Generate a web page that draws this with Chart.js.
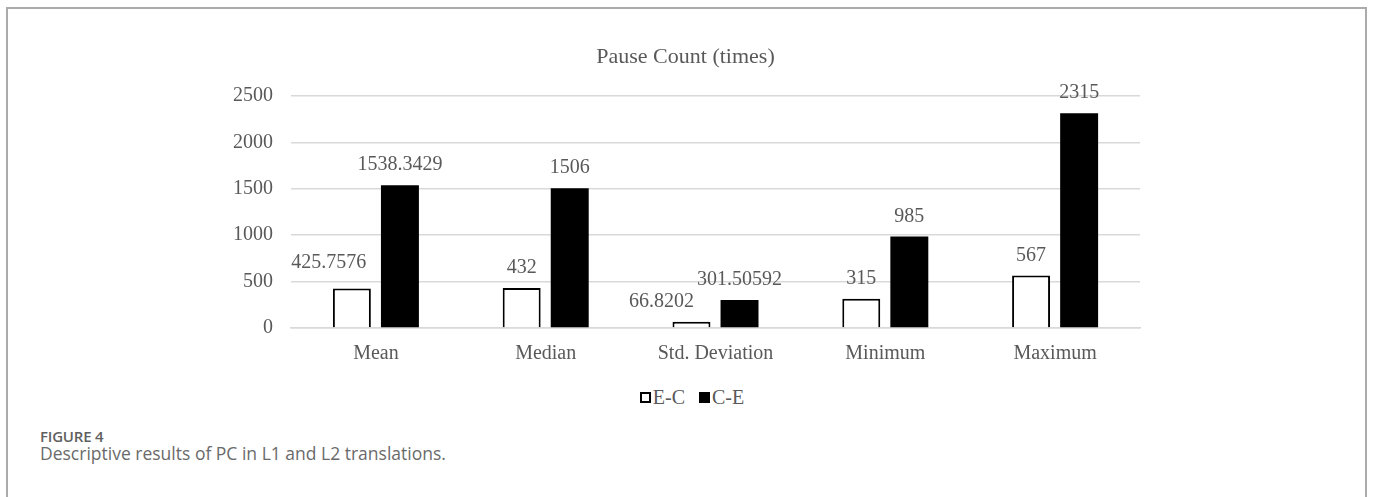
<!DOCTYPE html>
<html>
<head>
<meta charset="utf-8">
<script src="https://cdn.jsdelivr.net/npm/chart.js@4.4.1/dist/chart.umd.min.js"></script>
<style>
  html, body { margin: 0; padding: 0; background: #fff; width: 1373px; height: 497px; overflow: hidden; }
  #frame {
    position: absolute; left: 6px; top: 7px; width: 1361px; height: 520px;
    border: 2px solid #ababab; box-sizing: border-box;
  }
  #wrap { position: absolute; left: 11px; top: 0; width: 1362px; height: 368px; }
  #legend {
    position: absolute; top: 385px; left: 0; width: 1384px; text-align: center;
    font-family: "Liberation Serif", "Times New Roman", serif; font-size: 20px; color: #595959;
    line-height: 24px;
  }
  #legend span.item { display: inline-block; margin: 0 7px; }
  #legend span.box {
    display: inline-block; width: 11px; height: 11px; box-sizing: border-box;
    margin-right: 2px; vertical-align: 1px;
  }
  #figlabel {
    position: absolute; left: 40px; top: 426px; line-height: 20px;
    font-family: "Open Sans", sans-serif; font-weight: 600; font-size: 15px; color: #5f5f5f;
    letter-spacing: -0.2px;
  }
  #caption {
    position: absolute; left: 40px; top: 441px; line-height: 24px;
    font-family: "Open Sans", sans-serif; font-size: 17.5px; color: #6a6a6a;
  }
</style>
</head>
<body>
<div id="frame"></div>
<div id="wrap"><canvas id="chart" width="1362" height="368"></canvas></div>
<div id="legend"></div>
<div id="figlabel">FIGURE 4</div>
<div id="caption">Descriptive results of PC in L1 and L2 translations.</div>
<script>
// Descriptive statistics of pause count
const categories = ["Mean", "Median", "Std. Deviation", "Minimum", "Maximum"];
const seriesNames = ["E-C", "C-E"];
const ecValues = [425.7576, 432, 66.8202, 315, 567];
const ceValues = [1538.3429, 1506, 301.50592, 985, 2315];
const yTicks = [0, 500, 1000, 1500, 2000, 2500];

const serif = '"Liberation Serif", "Times New Roman", serif';
const textGray = '#595959';

// value labels above each bar; a couple are nudged so they don't collide
const valueLabels = {
  id: 'valueLabels',
  afterDatasetsDraw(chart, args, opts) {
    const ctx = chart.ctx;
    ctx.save();
    ctx.font = '20px ' + serif;
    ctx.fillStyle = textGray;
    ctx.textAlign = 'center';
    ctx.textBaseline = 'middle';
    chart.data.datasets.forEach((ds, di) => {
      const meta = chart.getDatasetMeta(di);
      meta.data.forEach((bar, i) => {
        const nudge = (opts.nudge && opts.nudge[di + ':' + i]) || [0, 0];
        ctx.fillText(String(ds.data[i]), bar.x + nudge[0], bar.y - opts.offset + nudge[1]);
      });
    });
    ctx.restore();
  }
};

const chart = new Chart(document.getElementById('chart'), {
  type: 'bar',
  data: {
    labels: categories,
    datasets: [
      {
        label: seriesNames[0], data: ecValues,
        backgroundColor: '#ffffff', borderColor: '#000000', borderWidth: 2,
        borderSkipped: 'start'
      },
      {
        label: seriesNames[1], data: ceValues,
        backgroundColor: '#000000', borderColor: '#000000', borderWidth: 0
      }
    ]
  },
  options: {
    responsive: false,
    animation: false,
    devicePixelRatio: 1,
    categoryPercentage: 0.566,
    barPercentage: 0.79,
    layout: { padding: { left: 220, right: 233, top: 0, bottom: 0 } },
    plugins: {
      legend: { display: false },
      tooltip: { enabled: false },
      title: {
        display: true,
        text: 'Pause Count (times)',
        color: textGray,
        font: { family: serif, size: 22, weight: 'normal' },
        padding: { top: 44, bottom: 25.6 }
      },
      valueLabels: { offset: 20, nudge: { '0:0': [-23, -6], '0:2': [-30, 0] } }
    },
    scales: {
      x: {
        grid: { display: false, drawTicks: false },
        border: { display: true, color: '#d9d9d9', width: 1.5 },
        ticks: { color: textGray, font: { family: serif, size: 20 }, padding: 14 },
        afterFit(scale) { scale.height = 40; }
      },
      y: {
        min: 0, max: 2500,
        afterBuildTicks(scale) { scale.ticks = yTicks.map(v => ({ value: v })); },
        grid: { color: '#d9d9d9', lineWidth: 1.5, drawTicks: false },
        border: { display: false },
        ticks: {
          color: textGray, font: { family: serif, size: 20 }, padding: 18,
          callback: v => String(v)
        },
        afterFit(scale) { scale.width = 60; }
      }
    }
  },
  plugins: [valueLabels]
});

// legend built from the chart's datasets
const legend = document.getElementById('legend');
chart.data.datasets.forEach(ds => {
  const item = document.createElement('span');
  item.className = 'item';
  const box = document.createElement('span');
  box.className = 'box';
  box.style.background = ds.backgroundColor;
  box.style.border = ds.borderWidth ? '2px solid ' + ds.borderColor : 'none';
  item.appendChild(box);
  item.appendChild(document.createTextNode(ds.label));
  legend.appendChild(item);
});
</script>
</body>
</html>
